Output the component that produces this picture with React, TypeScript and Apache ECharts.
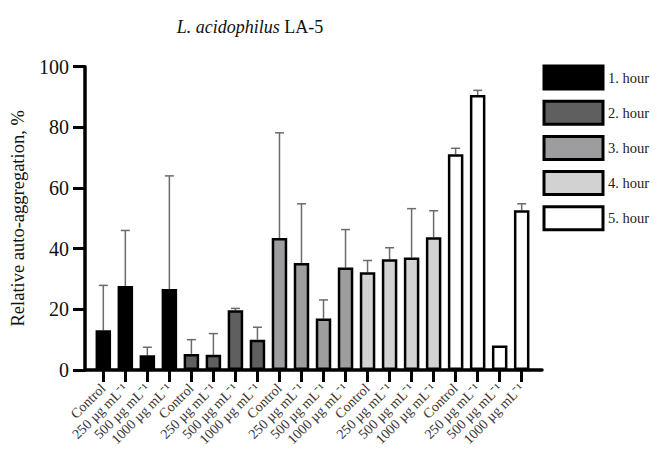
import React, { useEffect, useRef } from "react";
import * as echarts from "echarts";

const doseLabels = ["Control", "250 µg mL⁻¹", "500 µg mL⁻¹", "1000 µg mL⁻¹"];
const hourNames = ["1. hour", "2. hour", "3. hour", "4. hour", "5. hour"];
const hourColors = ["#000000", "#5f5f5f", "#9d9d9f", "#d2d2d2", "#ffffff"];

const means1 = [13.1, 27.7, 4.9, 26.7];
const upper1 = [27.9, 46.0, 7.5, 64.0];
const means2 = [5.3, 5.0, 19.7, 10.0];
const upper2 = [10.0, 12.0, 20.3, 14.1];
const means3 = [43.5, 35.3, 17.0, 33.8];
const upper3 = [78.2, 54.8, 23.1, 46.3];
const means4 = [32.2, 36.5, 37.1, 43.8];
const upper4 = [36.1, 40.3, 53.2, 52.5];
const means5 = [71.1, 90.7, 8.1, 52.7];
const upper5 = [73.1, 92.2, 8.1, 54.8];

const yTicks = [0, 20, 40, 60, 80, 100];

const allMeans = [means1, means2, means3, means4, means5];
const allUpper = [upper1, upper2, upper3, upper4, upper5];

export default function App() {
  const ref = useRef<HTMLDivElement>(null);
  useEffect(() => {
    document.body.style.margin = "0";
    if (!ref.current) return;
    const chart = echarts.init(ref.current, undefined, { renderer: "svg" });

    const categories: string[] = [];
    hourNames.forEach(() => doseLabels.forEach((d) => categories.push(d)));
    const n = categories.length;

    const barSeries = hourNames.map((name, h) => {
      const data: (number | string)[] = new Array(n).fill("-");
      allMeans[h].forEach((v, i) => {
        data[h * 4 + i] = v;
      });
      return {
        name,
        type: "bar",
        xAxisIndex: 1,
        yAxisIndex: 1,
        barWidth: 15.5,
        barGap: "-100%",
        itemStyle: {
          color: hourColors[h],
          borderColor: "#000",
          borderWidth: 2.5,
        },
        data,
      };
    });

    const errData: number[][] = [];
    allMeans.forEach((arr, h) =>
      arr.forEach((v, i) => errData.push([h * 4 + i, v, allUpper[h][i]]))
    );

    const option: any = {
      animation: false,
      textStyle: { fontFamily: "Liberation Serif" },
      title: {
        text: "{i|L. acidophilus} {n|LA-5}",
        left: 245,
        textAlign: "center",
        top: 13,
        textStyle: {
          fontWeight: "normal",
          rich: {
            i: { fontFamily: "Liberation Serif", fontStyle: "italic", fontWeight: "normal", fontSize: 18, color: "#111" },
            n: { fontFamily: "Liberation Serif", fontWeight: "normal", fontSize: 18, color: "#111" },
          },
        },
      },
      legend: {
        data: hourNames,
        orient: "vertical",
        left: 542.5,
        top: 64.5,
        padding: 0,
        itemWidth: 59,
        itemHeight: 23,
        itemGap: 9.2,
        icon: "rect",
        itemStyle: { borderWidth: 3, borderColor: "#000" },
        textStyle: { fontFamily: "Liberation Serif", fontSize: 14.5, color: "#222" },
      },
      grid: [
        { left: 84.5, right: 118, top: 66.7, bottom: 84 },
        { left: 92.3, right: 127.3, top: 66.7, bottom: 84 },
      ],
      xAxis: [
        {
          type: "value",
          gridIndex: 0,
          min: 0,
          max: 1,
          axisLine: { show: true, lineStyle: { color: "#000", width: 3.5 } },
          axisTick: { show: false },
          axisLabel: { show: false },
          splitLine: { show: false },
        },
        {
          type: "category",
          gridIndex: 1,
          data: categories,
          axisLine: { show: false },
          axisTick: { show: true, alignWithLabel: true, length: 12, lineStyle: { color: "#000", width: 3 } },
          axisLabel: {
            interval: 0,
            rotate: 45,
            fontSize: 14,
            color: "#333",
            margin: 16,
            fontFamily: "Liberation Serif",
          },
        },
      ],
      yAxis: [
        {
          type: "value",
          gridIndex: 0,
          min: yTicks[0],
          max: yTicks[yTicks.length - 1],
          interval: 20,
          name: "Relative auto-aggregation, %",
          nameLocation: "middle",
          nameGap: 58,
          nameTextStyle: { fontFamily: "Liberation Serif", fontSize: 18.5, color: "#111" },
          axisLine: { show: true, lineStyle: { color: "#000", width: 3.5 } },
          axisTick: { show: true, length: 12, lineStyle: { color: "#000", width: 3 } },
          axisLabel: { fontSize: 20, color: "#111", margin: 16, fontFamily: "Liberation Serif" },
          splitLine: { show: false },
        },
        {
          type: "value",
          gridIndex: 1,
          min: 0,
          max: 100,
          interval: 20,
          show: false,
          splitLine: { show: false },
        },
      ],
      series: [
        {
          type: "custom",
          name: "err",
          xAxisIndex: 1,
          yAxisIndex: 1,
          z: 1,
          encode: { x: 0, y: [1, 2] },
          data: errData,
          renderItem: (params: any, api: any) => {
            const idx = api.value(0);
            const m = api.value(1);
            const u = api.value(2);
            if (!(u > m)) return { type: "group", children: [] };
            const b = api.coord([idx, m]);
            const t = api.coord([idx, u]);
            const style = { stroke: "#6b6b6b", lineWidth: 1.5 };
            return {
              type: "group",
              children: [
                { type: "line", shape: { x1: b[0], y1: b[1], x2: t[0], y2: t[1] }, style },
                { type: "line", shape: { x1: t[0] - 4.5, y1: t[1], x2: t[0] + 4.5, y2: t[1] }, style },
              ],
            };
          },
        },
        ...barSeries,
      ],
    };
    chart.setOption(option);
    return () => chart.dispose();
  }, []);
  return <div ref={ref} style={{ width: 660, height: 454 }} />;
}
